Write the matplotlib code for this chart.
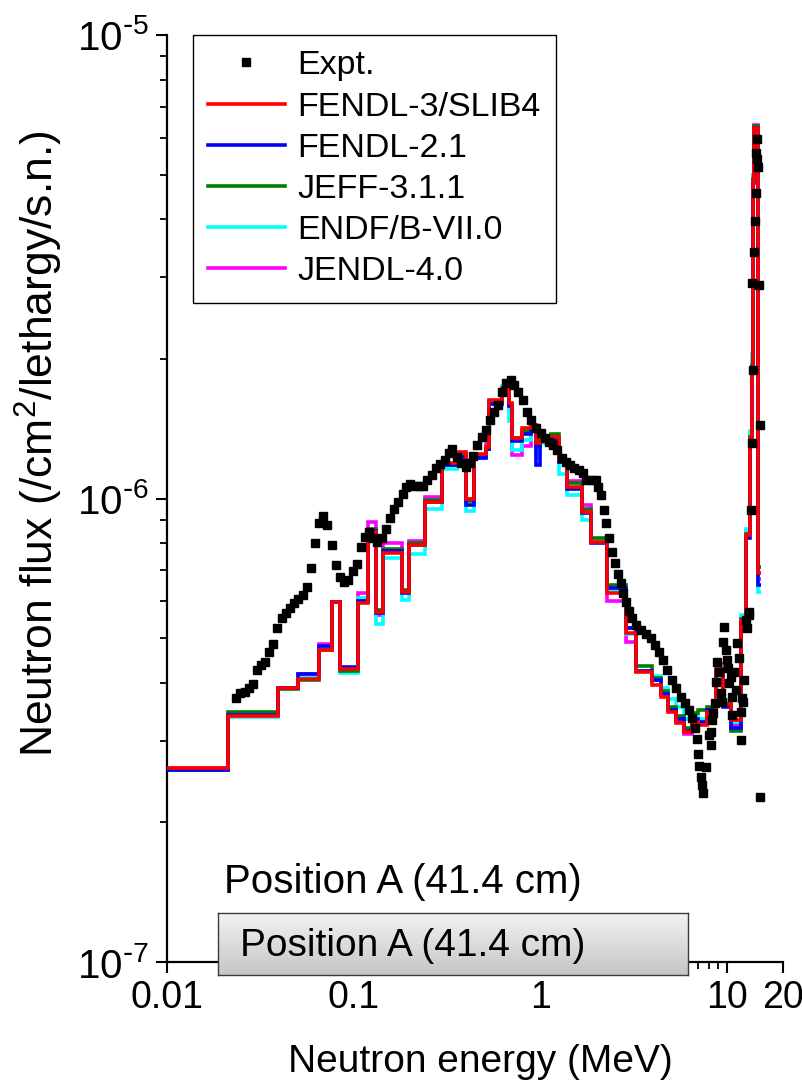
import matplotlib
matplotlib.use("Agg")
import matplotlib.pyplot as plt
import numpy as np
from matplotlib import font_manager
from matplotlib.lines import Line2D
from matplotlib.ticker import FixedLocator, FixedFormatter, NullFormatter

plt.rcParams["font.family"] = ["Liberation Sans", "DejaVu Sans"]
plt.rcParams["mathtext.default"] = "regular"

# group structure shared by all calculated spectra (MeV)
edges = [0.01, 0.0212, 0.0392, 0.0502, 0.065, 0.0763, 0.0842, 0.106, 0.119, 0.131,
         0.143, 0.181, 0.197, 0.240, 0.296, 0.360, 0.402, 0.444, 0.514, 0.534,
         0.626, 0.683, 0.709, 0.801, 0.893, 0.952, 1.0, 1.145, 1.263, 1.394,
         1.677, 1.874, 2.28, 2.88, 3.26, 3.97, 4.44, 4.84, 5.34, 5.89,
         6.50, 7.0, 7.8, 8.8, 9.5, 10.5, 11.9, 12.6, 13.3, 13.6,
         13.8, 14.0, 14.65, 15.2]

# calculated flux per group, in units of 1e-7 /cm2/lethargy/s.n.
fendl3 = [2.62, 3.40, 3.90, 4.08, 4.71, 5.98, 4.29, 5.95, 8.47, 5.69,
          7.63, 6.29, 7.94, 9.83, 11.9, 12.6, 10.0, 12.5, 12.9, 16.3,
          17.3, 16.1, 13.5, 14.2, 14.4, 13.2, 13.5, 13.6, 12.1, 10.6,
          9.35, 8.06, 6.25, 5.13, 4.22, 3.96, 3.73, 3.46, 3.28, 3.13,
          3.30, 3.25, 3.46, 4.30, 3.60, 3.33, 5.47, 8.34, 13.5, 19.2,
          48.7, 63.0, 6.9]
fendl21 = [2.60, 3.42, 3.90, 4.18, 4.80, 5.98, 4.33, 6.02, 8.50, 5.65,
           7.72, 6.25, 7.95, 9.85, 11.8, 12.3, 9.7, 12.2, 12.8, 16.0,
           17.0, 15.8, 13.3, 13.8, 14.2, 11.8, 13.3, 13.4, 12.0, 10.5,
           9.3, 8.0, 6.4, 5.25, 4.25, 4.05, 3.78, 3.50, 3.35, 3.15,
           3.35, 3.30, 3.50, 4.25, 3.55, 3.20, 5.40, 8.2, 13.3, 19.0,
           48.0, 63.0, 6.5]
jeff311 = [2.60, 3.46, 3.88, 4.05, 4.72, 5.98, 4.25, 6.0, 8.6, 5.75,
           7.8, 6.35, 8.0, 9.95, 11.8, 12.4, 9.9, 12.3, 12.8, 16.1,
           17.2, 16.0, 13.5, 14.0, 14.4, 13.0, 13.4, 13.8, 12.0, 10.8,
           9.5, 8.2, 6.5, 5.25, 4.35, 4.1, 3.85, 3.55, 3.40, 3.20,
           3.45, 3.50, 3.55, 4.2, 3.6, 3.15, 5.5, 8.4, 13.6, 19.3,
           49.0, 63.5, 7.1]
endf7 = [2.61, 3.38, 3.90, 4.12, 4.75, 5.98, 4.20, 6.10, 8.3, 5.35,
         7.45, 6.05, 7.6, 9.5, 11.6, 12.2, 9.4, 12.2, 12.8, 16.0,
         17.5, 14.7, 12.7, 13.4, 14.2, 12.3, 13.2, 12.9, 11.3, 10.2,
         9.0, 8.1, 6.35, 5.1, 4.25, 4.15, 3.90, 3.70, 3.55, 3.35,
         3.40, 3.35, 3.45, 4.35, 3.65, 3.30, 5.6, 8.6, 14.0, 20.5,
         50.0, 62.5, 6.3]
jendl4 = [2.62, 3.40, 3.90, 4.18, 4.85, 5.98, 4.30, 6.25, 8.9, 5.6,
          8.0, 6.3, 8.1, 10.1, 11.8, 12.5, 10.0, 12.3, 13.1, 16.2,
          17.2, 15.6, 12.4, 13.0, 14.0, 12.8, 13.4, 13.4, 12.0, 10.9,
          9.7, 8.15, 6.0, 4.9, 4.25, 4.05, 3.80, 3.50, 3.30, 3.10,
          3.35, 3.30, 3.50, 4.4, 3.60, 3.25, 5.5, 8.5, 13.6, 19.8,
          50.0, 64.0, 6.7]

# measured spectrum (MeV, 1e-7 /cm2/lethargy/s.n.)
expt_e = [0.0234, 0.0246, 0.0261, 0.0275, 0.0288, 0.0303, 0.0318, 0.0334, 0.0351, 0.0369,
          0.0387, 0.0412, 0.0433, 0.0455, 0.0478, 0.0502, 0.0533, 0.0561, 0.0589, 0.0618,
          0.0650, 0.0682, 0.0718, 0.0762, 0.0801, 0.0841, 0.0884, 0.0929, 0.0988, 0.1038,
          0.109, 0.1145, 0.1203, 0.1264, 0.1327, 0.1411, 0.1483, 0.1558, 0.1637, 0.1719,
          0.1828, 0.192, 0.2017, 0.212, 0.2227, 0.2367, 0.2487, 0.2646, 0.2779, 0.2919,
          0.3105, 0.3262, 0.3384, 0.3597, 0.378, 0.402, 0.4224, 0.4383, 0.4603, 0.4896,
          0.514, 0.540, 0.5675, 0.5963, 0.6264, 0.658, 0.700, 0.726, 0.762, 0.811,
          0.851, 0.895, 0.952, 1.012, 1.063, 1.117, 1.174, 1.233, 1.311, 1.377,
          1.447, 1.520, 1.617, 1.698, 1.762, 1.897, 1.993, 2.042, 2.12, 2.199,
          2.254, 2.339, 2.427, 2.518, 2.612, 2.710, 2.779, 2.884, 2.992, 3.105,
          3.262, 3.467, 3.690, 3.924, 4.12, 4.325, 4.55, 4.775, 5.08, 5.33,
          5.675, 5.96, 6.26, 6.50, 6.745, 6.91, 7.0, 7.08, 7.26, 7.35,
          7.44, 7.72, 8.01, 8.21, 8.21, 8.32, 8.41, 8.63, 8.73, 8.84,
          9.06, 9.29, 9.40, 9.52, 9.64, 9.88, 10.0, 10.12, 10.25, 10.50,
          10.63, 10.63, 10.9, 11.17, 11.31, 11.59, 11.88, 11.88, 12.03, 12.18,
          12.33, 12.64, 12.79, 13.11, 13.11, 13.44, 13.61, 13.61, 13.77, 13.94,
          14.11, 14.29, 14.29, 14.47, 14.47, 14.65, 14.83, 15.02, 15.02]
expt_flux = [3.71, 3.81, 3.82, 3.90, 3.98, 4.27, 4.37, 4.44, 4.66, 4.85,
             5.25, 5.52, 5.66, 5.81, 5.95, 6.07, 6.19, 6.44, 7.08, 8.02,
             8.86, 9.17, 8.76, 7.94, 7.18, 6.77, 6.61, 6.67, 6.97, 7.23,
             7.86, 8.26, 8.47, 8.22, 8.06, 8.22, 8.59, 9.07, 9.49, 9.83,
             10.23, 10.59, 10.75, 10.64, 10.64, 10.64, 10.96, 11.24, 11.63, 11.87,
             12.11, 12.54, 12.79, 12.29, 11.93, 11.69, 11.93, 12.35, 13.04, 13.57,
             14.05, 14.77, 15.37, 15.91, 16.97, 17.75, 18.02, 17.57, 16.97, 16.31,
             15.37, 14.77, 14.19, 13.84, 13.50, 13.24, 13.04, 12.72, 12.23, 11.99,
             11.81, 11.63, 11.52, 11.35, 10.96, 10.96, 10.96, 10.59, 10.18, 9.44,
             8.86, 8.22, 7.67, 7.26, 6.87, 6.57, 6.25, 5.98, 5.72, 5.52,
             5.33, 5.20, 5.10, 5.00, 4.83, 4.66, 4.48, 4.27, 4.06, 3.90,
             3.73, 3.62, 3.50, 3.36, 3.20, 3.03, 2.81, 2.65, 2.51, 2.41,
             2.31, 2.63, 3.09, 3.13, 2.94, 3.33, 3.44, 3.62, 4.02, 4.44,
             4.22, 3.81, 3.64, 4.90, 5.28, 4.71, 4.48, 4.31, 4.00, 4.12,
             3.73, 3.41, 4.22, 3.86, 4.88, 4.53, 3.46, 3.01, 3.71, 3.64,
             4.06, 5.47, 5.25, 5.61, 5.69, 9.44, 13.17, 29.2, 18.93, 34.0,
             39.7, 45.6, 55.6, 59.7, 54.0, 51.9, 28.9, 14.4, 2.27]

libraries = ["FENDL-3/SLIB4", "FENDL-2.1", "JEFF-3.1.1", "ENDF/B-VII.0", "JENDL-4.0"]
lib_colors = ["#ff0000", "#0000ff", "#008000", "#00ffff", "#ff00ff"]
lib_values = [fendl3, fendl21, jeff311, endf7, jendl4]

scale = 1e-7

fig = plt.figure(figsize=(8.03, 10.90), dpi=100)
ax = fig.add_axes([0.2080, 0.1174, 0.7671, 0.8505])

# draw the libraries back to front so FENDL-3 ends up on top
draw_order = [4, 3, 2, 1, 0]
for k, i in enumerate(draw_order):
    ax.stairs(np.array(lib_values[i]) * scale, edges, baseline=None,
              color=lib_colors[i], lw=2.6, zorder=2 + k)
ax.plot(np.array(expt_e), np.array(expt_flux) * scale, ls="none", marker="s",
        ms=5.2, color="black", mec="black", zorder=10)

ax.set_xscale("log")
ax.set_yscale("log")
ax.set_xlim(0.01, 20)
ax.set_ylim(1e-7, 1e-5)

for side in ("top", "right"):
    ax.spines[side].set_visible(False)
for side in ("left", "bottom"):
    ax.spines[side].set_linewidth(1.6)

ax.xaxis.set_major_locator(FixedLocator([0.01, 0.1, 1, 10, 20]))
ax.xaxis.set_major_formatter(FixedFormatter(["0.01", "0.1", "1", "10", "20"]))
x_minor = [m * d for d in (0.01, 0.1, 1) for m in range(2, 10)]
ax.xaxis.set_minor_locator(FixedLocator(x_minor))
ax.xaxis.set_minor_formatter(NullFormatter())

ax.yaxis.set_major_locator(FixedLocator([1e-7, 1e-6, 1e-5]))
ax.yaxis.set_major_formatter(FixedFormatter(
    [r"$10^{\text{-}7}$", r"$10^{\text{-}6}$", r"$10^{\text{-}5}$"]))
y_minor = [m * d for d in (1e-7, 1e-6) for m in range(2, 10)]
ax.yaxis.set_minor_locator(FixedLocator(y_minor))
ax.yaxis.set_minor_formatter(NullFormatter())

ax.tick_params(which="major", direction="out", length=8, width=1.5, labelsize=27, pad=5)
ax.tick_params(axis="y", which="major", labelsize=29)
ax.tick_params(which="minor", direction="out", length=5, width=1.3)

ax.set_xlabel("Neutron energy (MeV)", fontsize=28)
ax.xaxis.set_label_coords(0.508, -0.088)
ax.set_ylabel(r"Neutron flux (/cm$^2$/lethargy/s.n.)", fontsize=32)
ax.yaxis.set_label_coords(-0.165, 0.559)

handles = [Line2D([], [], ls="none", marker="s", ms=5.2, color="black")]
handles += [Line2D([], [], color=c, lw=2.6) for c in lib_colors]
leg = ax.legend(handles, ["Expt."] + libraries, loc="upper left",
                bbox_to_anchor=(0.042, 1.0), borderaxespad=0, fontsize=24.5,
                frameon=True, fancybox=False, framealpha=1, edgecolor="black",
                handlelength=2.25, handletextpad=0.38, labelspacing=0.3,
                borderpad=0.45, numpoints=1)
leg.get_frame().set_linewidth(1.0)
leg.set_zorder(20)

fig.text(224 / 803, 1 - 882 / 1090, "Position A (41.4 cm)", fontsize=29,
         va="center", ha="left")

# gray gradient label box laid over the bottom of the axes
narrow = [f.name for f in font_manager.fontManager.ttflist if f.name == "Liberation Sans Narrow"]
box = fig.add_axes([0.2715, 0.1055, 0.5853, 0.0569])
grad = np.linspace(0, 1, 64).reshape(-1, 1)
box.imshow(grad, aspect="auto", cmap=matplotlib.colors.LinearSegmentedColormap.from_list(
    "g", ["#f3f3f3", "#c6c6c6"]), extent=(0, 1, 0, 1), origin="upper")
box.set_xlim(0, 1)
box.set_ylim(0, 1)
box.set_xticks([])
box.set_yticks([])
for sp in box.spines.values():
    sp.set_color("#3c3c3c")
    sp.set_linewidth(1.0)
if narrow:
    box.text(0.047, 0.47, "Position A (41.4 cm)", family="Liberation Sans Narrow",
             fontsize=35, va="center", ha="left")
else:
    box.text(0.047, 0.47, "Position A (41.4 cm)", fontsize=28,
             va="center", ha="left")

fig.savefig("out.png", dpi=100)
